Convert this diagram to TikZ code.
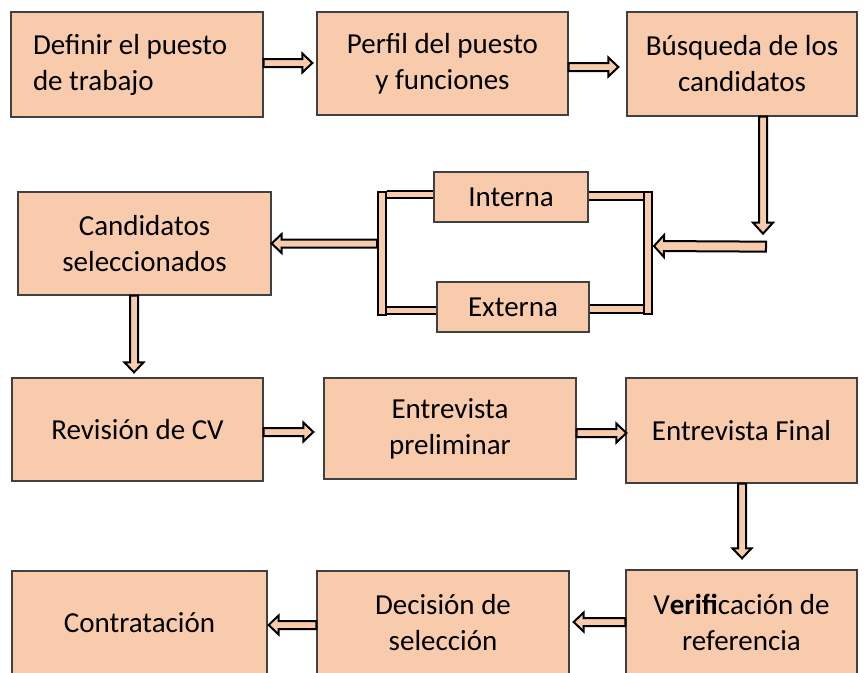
\documentclass[tikz,border=0pt]{standalone}
\usepackage{fontspec}
\setmainfont{Carlito}
\usetikzlibrary{calc,backgrounds}
\definecolor{peach}{RGB}{248,203,173}
\definecolor{edgegray}{RGB}{64,64,64}
\tikzset{
  box/.style={draw=edgegray, line width=1.3pt, fill=peach, inner sep=0pt, align=center,
    font=\fontsize{29}{36}\selectfont},
  vbar/.style={draw=black, line width=2pt, fill=peach, inner sep=0pt, minimum width=8pt},
  conn/.style={draw=black, line width=2pt, double=peach, double distance=5pt},
  barrow/.style={draw=black, line width=2pt, fill=peach, line join=miter},
}
% #1 start, #2 end, #3 half shaft, #4 half head, #5 head length
\newcommand\blockarrowx[5]{%
  \draw[barrow] ($(#1)!#3!90:(#2)$) -- ($(#2)!#5!(#1)!#3!-90:(#1)$)
    -- ($(#2)!#5!(#1)!#4!-90:(#1)$) -- (#2)
    -- ($(#2)!#5!(#1)!#4!90:(#1)$) -- ($(#2)!#5!(#1)!#3!90:(#1)$)
    -- ($(#1)!#3!-90:(#2)$) -- cycle;}
\newcommand\blockarrow[2]{\blockarrowx{#1}{#2}{4pt}{9.5pt}{10pt}}

\begin{document}
\begin{tikzpicture}[x=1pt,y=-1pt]
\useasboundingbox (0,0) rectangle (867,672);

% boxes
\node[box, minimum width=252pt, minimum height=105pt, text width=208pt, align=flush left] (def) at (137,64.5) {\spaceskip=0pt Definir el puesto\\de trabajo};
\node[box, minimum width=251pt, minimum height=103pt] (perf) at (442.5,63.5) {Perfil del puesto\\y funciones};
\node[box, minimum width=230pt, minimum height=104pt] (busq) at (742,64) {Búsqueda de los\\candidatos};
\node[box, minimum width=253pt, minimum height=103pt] (cand) at (144.5,243.5) {Candidatos\\seleccionados};
\node[box, minimum width=154pt, minimum height=50pt] (interna) at (511,197) {Interna};
\node[box, minimum width=152pt, minimum height=50pt] (externa) at (513,307) {Externa};
\node[box, minimum width=251pt, minimum height=103pt] (rev) at (137.5,429.5) {Revisión de CV};
\node[box, minimum width=252pt, minimum height=101pt] (prel) at (450,428.5) {Entrevista\\preliminar};
\node[box, minimum width=231pt, minimum height=105pt] (final) at (741.5,430.5) {Entrevista Final};
\node[box, minimum width=255pt, minimum height=103pt] (contr) at (139.5,622.5) {Contratación};
\node[box, minimum width=252pt, minimum height=103pt] (dec) at (443,622.5) {Decisión de\\selección};
\node[box, minimum width=231pt, minimum height=104pt] (ver) at (741.5,622) {V\textbf{erifi}cación de\\referencia};

% vertical bars of the branch
\node[vbar, minimum height=123pt] (lbar) at (382,253.5) {};
\node[vbar, minimum height=122pt] (rbar) at (648,253) {};

% branch connectors (behind)
\coordinate (lt) at ($(lbar.north east)+(0,3.5)$);
\coordinate (lb) at ($(lbar.south east)+(0,-5.5)$);
\coordinate (rt) at ($(rbar.north west)+(0,5)$);
\coordinate (rb) at ($(rbar.south west)+(0,-6)$);
\begin{scope}[on background layer]
  \draw[conn] (lt) -- (lt -| interna.west);
  \draw[conn] (lb) -- (lb -| externa.west);
  \draw[conn, double distance=6pt] (rt) -- (rt -| interna.east);
  \draw[conn, double distance=6pt] (rb) -- (rb -| externa.east);
\end{scope}

% arrow end points
\coordinate (a1s) at ($(def.east)+(0,-1.5)$);
\coordinate (a1e) at ($(perf.west)+(-4,-0.5)$);
\coordinate (a2s) at ($(perf.east)+(0,3.5)$);
\coordinate (a2e) at ($(busq.west)+(-8,3)$);
\coordinate (a3s) at ($(busq.south)+(21,0)$);
\coordinate (a3e) at ($(busq.south)+(21,117)$);
\coordinate (bend) at ($(busq.south)+(24,130)$);
\coordinate (a4e) at ($(rbar.east)+(1,-7)$);
\coordinate (a5s) at (lbar.west |- cand.east);
\coordinate (a6s) at ($(cand.south)+(-10.5,0)$);
\coordinate (a6e) at ($(rev.north)+(-3.5,-5)$);
\coordinate (a7s) at ($(rev.east)+(0,2.5)$);
\coordinate (a7e) at ($(prel.west)+(-10,3.5)$);
\coordinate (a8s) at ($(prel.east)+(0,4.5)$);
\coordinate (a8e) at ($(final.west)+(1,2.5)$);
\coordinate (a9s) at ($(final.south)+(0.5,0)$);
\coordinate (a9e) at ($(ver.north)+(0.5,-11)$);
\coordinate (a10e) at ($(dec.east)+(4,-0.5)$);
\coordinate (a11s) at ($(dec.west)+(0,2.5)$);
\coordinate (a11e) at ($(contr.east)+(1,2.5)$);

\blockarrow{a1s}{a1e}
\blockarrow{a2s}{a2e}
\blockarrowx{a3s}{a3e}{4pt}{10pt}{11pt}
\blockarrowx{bend}{a4e}{5pt}{11pt}{10pt}
\blockarrow{a5s}{cand.east}
\blockarrow{a6s}{a6e}
\blockarrow{a7s}{a7e}
\blockarrow{a8s}{a8e}
\blockarrow{a9s}{a9e}
\blockarrow{ver.west}{a10e}
\blockarrow{a11s}{a11e}
\end{tikzpicture}
\end{document}
